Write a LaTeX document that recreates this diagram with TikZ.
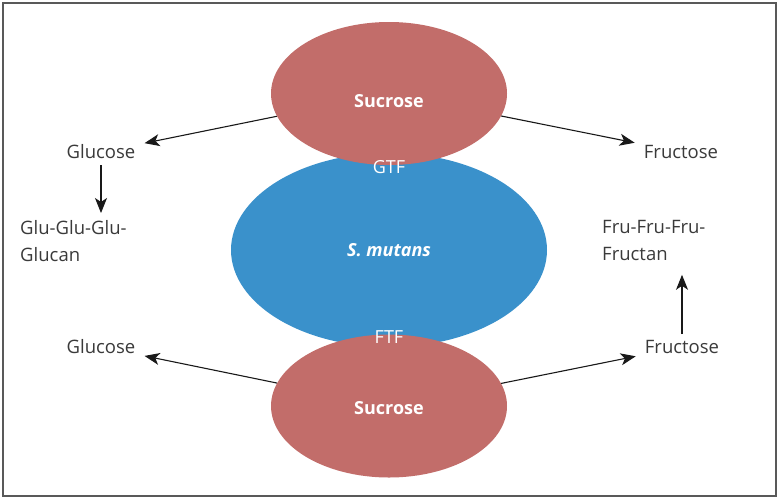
\documentclass[tikz,border=0pt]{standalone}
\usepackage{fontspec}
\setmainfont{Open Sans}
\usetikzlibrary{shapes.geometric,arrows.meta}
\definecolor{sucrosered}{HTML}{C26D6A}
\definecolor{cellblue}{HTML}{3A91CB}
\definecolor{labelgray}{HTML}{3A3A3A}
\begin{document}
\begin{tikzpicture}[x=1pt,y=-1pt,
  blob/.style={ellipse,inner sep=0pt,draw=none},
  sugar/.style={blob,fill=sucrosered,minimum width=236pt,minimum height=143pt},
  cell/.style={blob,fill=cellblue,minimum width=316pt,minimum height=194pt},
  inlabel/.style={text=white,font=\fontsize{18}{21}\selectfont\bfseries},
  product/.style={text=labelgray,font=\fontsize{18.5}{27}\selectfont,inner xsep=9pt,inner ysep=6pt},
  arr/.style={draw=black!90,line width=1.1pt,-{Stealth[length=15pt,width=12pt,inset=4pt]}}]
  % page and frame
  \useasboundingbox (0,0) rectangle (778,498);
  \draw[draw=black!65,line width=1.3pt] (3,3) rectangle (776,496);

  % cell and the two sucrose substrates
  \node[cell] (cell) at (389,250) {};
  \node[sugar] (sucT) at (389,93.5) {};
  \node[sugar] (sucB) at (389,406) {};

  % products
  \node[product] (gluT) at (101,152) {Glucose};
  \node[product] (fruT) at (681,152) {Fructose};
  \node[product] (gluB) at (101,347) {Glucose};
  \node[product] (fruB) at (682,347) {Fructose};
  \node[product,anchor=north west,align=left,inner xsep=0pt,inner ysep=0pt] (glucan) at (20,220)
    {Glu-Glu-Glu-\\Glucan};
  \node[product,anchor=north west,align=left,inner xsep=0pt,inner ysep=0pt] (fructan) at (602,220)
    {Fru-Fru-Fru-\\Fructan};

  % labels on the shapes
  \node[inlabel] (lblT) at (389,101) {Sucrose};
  \node[inlabel] (lblB) at (389,408) {Sucrose};
  \node[inlabel,font=\fontsize{18}{21}\selectfont\bfseries\itshape] (lblC) at (389,250) {S. mutans};
  \node[inlabel,font=\fontsize{18}{21}\selectfont] (gtf) at (389,167) {GTF};
  \node[inlabel,font=\fontsize{18}{21}\selectfont] (ftf) at (389,337) {FTF};

  % reactions
  \draw[arr] (sucT) -- (gluT);
  \draw[arr] (sucT) -- (fruT);
  \draw[arr] (sucB) -- (gluB);
  \draw[arr] (sucB) -- (fruB);
  \draw[arr,shorten >=7pt] (gluT) -- (gluT |- glucan.north);
  \draw[arr,shorten >=14pt] (fruB) -- (fruB |- fructan.south);
\end{tikzpicture}
\end{document}
